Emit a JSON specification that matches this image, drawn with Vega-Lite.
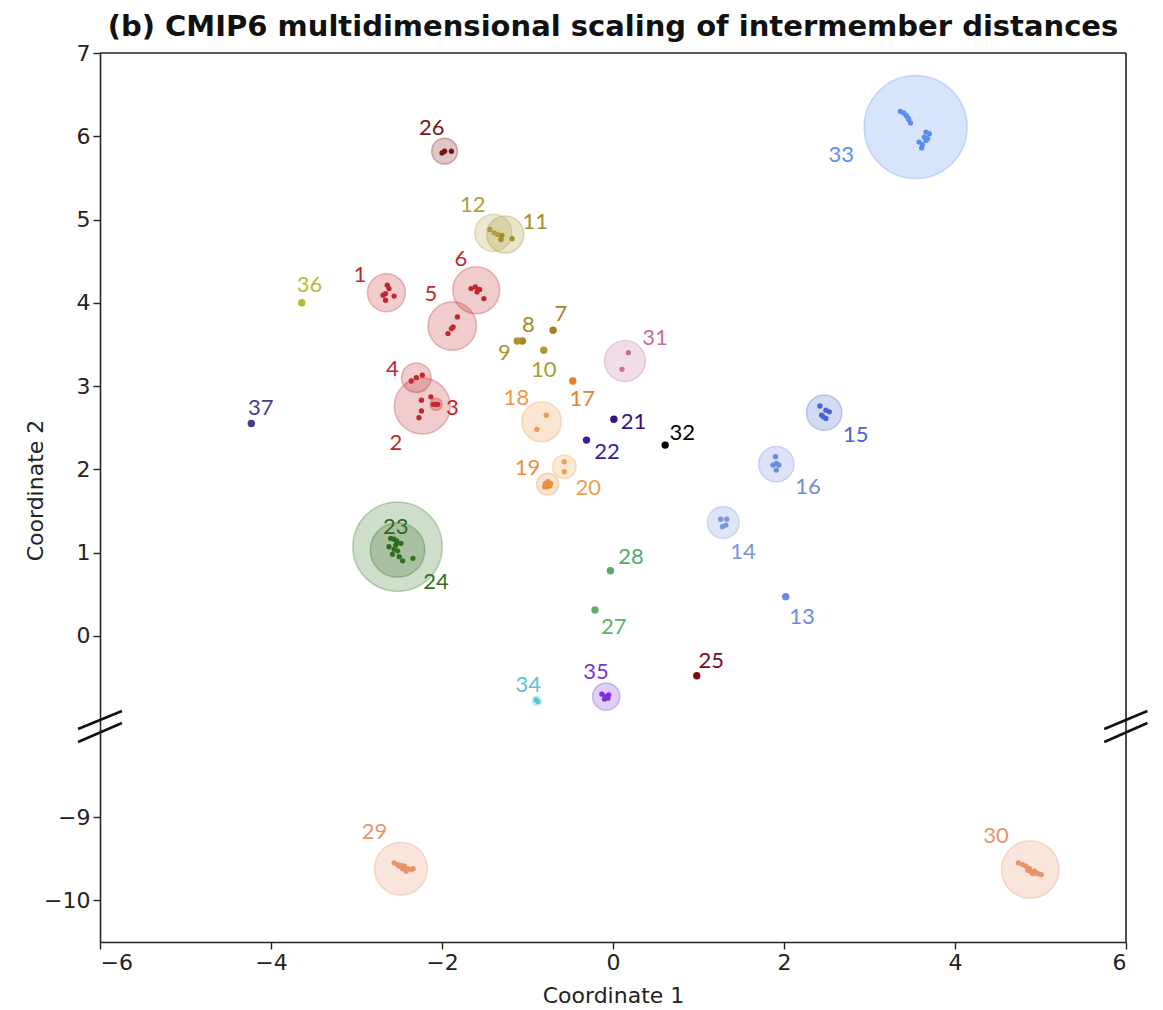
{
  "$schema": "https://vega.github.io/schema/vega-lite/v6.json",
  "padding": {"left": 24, "top": 13, "right": 5, "bottom": 5},
  "bounds": "flush",
  "spacing": 0,
  "config": {
    "view": {"stroke": null},
    "axis": {"grid": false, "domainColor": "#222", "domainWidth": 1.6, "tickColor": "#222", "tickWidth": 1.4, "tickSize": 7, "labelFont": "DejaVu Sans", "labelFontSize": 22, "labelColor": "#222", "titleFont": "DejaVu Sans", "titleFontSize": 22, "titleFontWeight": "normal", "titleColor": "#222"}
  },
  "datasets": {
    "models": [
      {"model": 1, "cx": -2.65, "cy": 4.12, "r": 0.25, "lx": -2.96, "ly": 4.33},
      {"model": 2, "cx": -2.23, "cy": 2.76, "r": 0.37, "lx": -2.54, "ly": 2.31},
      {"model": 3, "cx": -2.07, "cy": 2.78, "r": 0.08, "lx": -1.88, "ly": 2.73},
      {"model": 4, "cx": -2.30, "cy": 3.10, "r": 0.195, "lx": -2.58, "ly": 3.21},
      {"model": 5, "cx": -1.88, "cy": 3.72, "r": 0.32, "lx": -2.13, "ly": 4.11},
      {"model": 6, "cx": -1.60, "cy": 4.15, "r": 0.31, "lx": -1.78, "ly": 4.52},
      {"model": 7, "cx": -0.70, "cy": 3.67, "r": 0, "lx": -0.61, "ly": 3.86},
      {"model": 8, "cx": -1.06, "cy": 3.54, "r": 0, "lx": -0.99, "ly": 3.73},
      {"model": 9, "cx": -1.12, "cy": 3.54, "r": 0, "lx": -1.27, "ly": 3.40},
      {"model": 10, "cx": -0.81, "cy": 3.43, "r": 0, "lx": -0.81, "ly": 3.19},
      {"model": 11, "cx": -1.26, "cy": 4.82, "r": 0.245, "lx": -0.91, "ly": 4.97},
      {"model": 12, "cx": -1.40, "cy": 4.84, "r": 0.245, "lx": -1.64, "ly": 5.17},
      {"model": 13, "cx": 2.02, "cy": 0.47, "r": 0, "lx": 2.21, "ly": 0.23},
      {"model": 14, "cx": 1.29, "cy": 1.36, "r": 0.21, "lx": 1.52, "ly": 1.01},
      {"model": 15, "cx": 2.47, "cy": 2.68, "r": 0.234, "lx": 2.84, "ly": 2.41},
      {"model": 16, "cx": 1.91, "cy": 2.06, "r": 0.234, "lx": 2.28, "ly": 1.79},
      {"model": 17, "cx": -0.47, "cy": 3.06, "r": 0, "lx": -0.36, "ly": 2.84},
      {"model": 18, "cx": -0.835, "cy": 2.57, "r": 0.263, "lx": -1.13, "ly": 2.86},
      {"model": 19, "cx": -0.765, "cy": 1.82, "r": 0.146, "lx": -1.00, "ly": 2.01},
      {"model": 20, "cx": -0.57, "cy": 2.03, "r": 0.156, "lx": -0.29, "ly": 1.77},
      {"model": 21, "cx": 0.01, "cy": 2.60, "r": 0, "lx": 0.24, "ly": 2.57},
      {"model": 22, "cx": -0.31, "cy": 2.35, "r": 0, "lx": -0.07, "ly": 2.21},
      {"model": 23, "cx": -2.52, "cy": 1.03, "r": 0.36, "lx": -2.54, "ly": 1.31},
      {"model": 24, "cx": -2.52, "cy": 1.07, "r": 0.59, "lx": -2.07, "ly": 0.64},
      {"model": 25, "cx": 0.98, "cy": -0.48, "r": 0, "lx": 1.15, "ly": -0.30},
      {"model": 26, "cx": -1.97, "cy": 5.82, "r": 0.17, "lx": -2.12, "ly": 6.10},
      {"model": 27, "cx": -0.21, "cy": 0.31, "r": 0, "lx": 0.01, "ly": 0.11},
      {"model": 28, "cx": -0.03, "cy": 0.78, "r": 0, "lx": 0.21, "ly": 0.95},
      {"model": 29, "cx": -2.48, "cy": -9.62, "r": 0.35, "lx": -2.79, "ly": -9.18},
      {"model": 30, "cx": 4.88, "cy": -9.63, "r": 0.38, "lx": 4.48, "ly": -9.23},
      {"model": 31, "cx": 0.14, "cy": 3.30, "r": 0.27, "lx": 0.49, "ly": 3.58},
      {"model": 32, "cx": 0.61, "cy": 2.29, "r": 0, "lx": 0.81, "ly": 2.43},
      {"model": 33, "cx": 3.54, "cy": 6.11, "r": 0.68, "lx": 2.67, "ly": 5.77},
      {"model": 34, "cx": -0.89, "cy": -0.78, "r": 0.06, "lx": -0.99, "ly": -0.59},
      {"model": 35, "cx": -0.08, "cy": -0.73, "r": 0.18, "lx": -0.20, "ly": -0.43},
      {"model": 36, "cx": -3.64, "cy": 4.00, "r": 0, "lx": -3.55, "ly": 4.21},
      {"model": 37, "cx": -4.23, "cy": 2.55, "r": 0, "lx": -4.12, "ly": 2.74}
    ],
    "members": [
      {"model": 1, "x": -2.64, "y": 4.21}, {"model": 1, "x": -2.62, "y": 4.17}, {"model": 1, "x": -2.66, "y": 4.11},
      {"model": 1, "x": -2.56, "y": 4.08}, {"model": 1, "x": -2.69, "y": 4.09}, {"model": 1, "x": -2.66, "y": 4.03},
      {"model": 2, "x": -2.24, "y": 2.83}, {"model": 2, "x": -2.13, "y": 2.87}, {"model": 2, "x": -2.24, "y": 2.70}, {"model": 2, "x": -2.27, "y": 2.62},
      {"model": 3, "x": -2.10, "y": 2.78}, {"model": 3, "x": -2.07, "y": 2.78}, {"model": 3, "x": -2.05, "y": 2.78},
      {"model": 4, "x": -2.36, "y": 3.06}, {"model": 4, "x": -2.30, "y": 3.10}, {"model": 4, "x": -2.23, "y": 3.13},
      {"model": 5, "x": -1.82, "y": 3.83}, {"model": 5, "x": -1.87, "y": 3.71}, {"model": 5, "x": -1.89, "y": 3.69}, {"model": 5, "x": -1.93, "y": 3.63},
      {"model": 6, "x": -1.66, "y": 4.17}, {"model": 6, "x": -1.61, "y": 4.19}, {"model": 6, "x": -1.56, "y": 4.16}, {"model": 6, "x": -1.59, "y": 4.13}, {"model": 6, "x": -1.51, "y": 4.05},
      {"model": 7, "x": -0.70, "y": 3.67},
      {"model": 8, "x": -1.06, "y": 3.54},
      {"model": 9, "x": -1.12, "y": 3.54},
      {"model": 10, "x": -0.81, "y": 3.43},
      {"model": 11, "x": -1.30, "y": 4.81}, {"model": 11, "x": -1.31, "y": 4.76}, {"model": 11, "x": -1.18, "y": 4.77},
      {"model": 12, "x": -1.44, "y": 4.88}, {"model": 12, "x": -1.39, "y": 4.84}, {"model": 12, "x": -1.35, "y": 4.82},
      {"model": 13, "x": 2.02, "y": 0.47},
      {"model": 14, "x": 1.26, "y": 1.40}, {"model": 14, "x": 1.33, "y": 1.40}, {"model": 14, "x": 1.28, "y": 1.31}, {"model": 14, "x": 1.32, "y": 1.33},
      {"model": 15, "x": 2.42, "y": 2.76}, {"model": 15, "x": 2.49, "y": 2.71}, {"model": 15, "x": 2.53, "y": 2.69}, {"model": 15, "x": 2.44, "y": 2.65}, {"model": 15, "x": 2.49, "y": 2.61}, {"model": 15, "x": 2.46, "y": 2.63},
      {"model": 16, "x": 1.90, "y": 2.15}, {"model": 16, "x": 1.91, "y": 2.07}, {"model": 16, "x": 1.91, "y": 1.99}, {"model": 16, "x": 1.87, "y": 2.05}, {"model": 16, "x": 1.94, "y": 2.05},
      {"model": 17, "x": -0.47, "y": 3.06},
      {"model": 18, "x": -0.78, "y": 2.65}, {"model": 18, "x": -0.89, "y": 2.48},
      {"model": 19, "x": -0.79, "y": 1.83}, {"model": 19, "x": -0.76, "y": 1.85}, {"model": 19, "x": -0.74, "y": 1.80}, {"model": 19, "x": -0.77, "y": 1.79}, {"model": 19, "x": -0.73, "y": 1.83}, {"model": 19, "x": -0.80, "y": 1.79},
      {"model": 20, "x": -0.57, "y": 2.09}, {"model": 20, "x": -0.57, "y": 1.97},
      {"model": 21, "x": 0.01, "y": 2.60},
      {"model": 22, "x": -0.31, "y": 2.35},
      {"model": 23, "x": -2.56, "y": 1.16}, {"model": 23, "x": -2.53, "y": 1.14}, {"model": 23, "x": -2.48, "y": 1.11}, {"model": 23, "x": -2.62, "y": 1.07}, {"model": 23, "x": -2.54, "y": 1.09}, {"model": 23, "x": -2.60, "y": 1.17},
      {"model": 24, "x": -2.56, "y": 1.04}, {"model": 24, "x": -2.52, "y": 1.02}, {"model": 24, "x": -2.58, "y": 0.98}, {"model": 24, "x": -2.50, "y": 0.95}, {"model": 24, "x": -2.46, "y": 0.90}, {"model": 24, "x": -2.34, "y": 0.93},
      {"model": 25, "x": 0.98, "y": -0.48},
      {"model": 26, "x": -2.00, "y": 5.80}, {"model": 26, "x": -1.97, "y": 5.82}, {"model": 26, "x": -1.89, "y": 5.82},
      {"model": 27, "x": -0.21, "y": 0.31},
      {"model": 28, "x": -0.03, "y": 0.78},
      {"model": 29, "x": -2.56, "y": -9.55}, {"model": 29, "x": -2.52, "y": -9.57}, {"model": 29, "x": -2.48, "y": -9.58}, {"model": 29, "x": -2.44, "y": -9.59}, {"model": 29, "x": -2.40, "y": -9.62},
      {"model": 29, "x": -2.36, "y": -9.63}, {"model": 29, "x": -2.46, "y": -9.62}, {"model": 29, "x": -2.50, "y": -9.59}, {"model": 29, "x": -2.34, "y": -9.62}, {"model": 29, "x": -2.42, "y": -9.65},
      {"model": 30, "x": 4.74, "y": -9.55}, {"model": 30, "x": 4.79, "y": -9.57}, {"model": 30, "x": 4.83, "y": -9.59}, {"model": 30, "x": 4.87, "y": -9.62}, {"model": 30, "x": 4.89, "y": -9.66},
      {"model": 30, "x": 4.93, "y": -9.65}, {"model": 30, "x": 4.97, "y": -9.68}, {"model": 30, "x": 5.01, "y": -9.69}, {"model": 30, "x": 4.85, "y": -9.64}, {"model": 30, "x": 4.91, "y": -9.68},
      {"model": 31, "x": 0.18, "y": 3.40}, {"model": 31, "x": 0.105, "y": 3.20},
      {"model": 32, "x": 0.61, "y": 2.29},
      {"model": 33, "x": 3.36, "y": 6.30}, {"model": 33, "x": 3.40, "y": 6.28}, {"model": 33, "x": 3.43, "y": 6.25}, {"model": 33, "x": 3.46, "y": 6.20}, {"model": 33, "x": 3.48, "y": 6.16}, {"model": 33, "x": 3.45, "y": 6.22},
      {"model": 33, "x": 3.66, "y": 6.05}, {"model": 33, "x": 3.70, "y": 6.03}, {"model": 33, "x": 3.64, "y": 5.99}, {"model": 33, "x": 3.68, "y": 5.97}, {"model": 33, "x": 3.58, "y": 5.93}, {"model": 33, "x": 3.62, "y": 5.90},
      {"model": 33, "x": 3.61, "y": 5.86}, {"model": 33, "x": 3.66, "y": 5.95},
      {"model": 34, "x": -0.90, "y": -0.77}, {"model": 34, "x": -0.88, "y": -0.79},
      {"model": 35, "x": -0.13, "y": -0.70}, {"model": 35, "x": -0.09, "y": -0.73}, {"model": 35, "x": -0.05, "y": -0.71}, {"model": 35, "x": -0.10, "y": -0.76}, {"model": 35, "x": -0.06, "y": -0.75},
      {"model": 36, "x": -3.64, "y": 4.00},
      {"model": 37, "x": -4.23, "y": 2.55}
    ]
  },
  "vconcat": [
    {
      "width": 1026,
      "height": 673,
      "title": {"text": "(b) CMIP6 multidimensional scaling of intermember distances", "font": "DejaVu Sans", "fontSize": 29, "fontWeight": "bold", "color": "#111", "anchor": "middle", "frame": "group", "baseline": "alphabetic", "offset": -23},
      "layer": [
        {
          "data": {"name": "models"},
          "transform": [{"filter": "datum.cy > -5 && datum.r > 0"}],
          "mark": {"type": "point", "shape": "circle", "filled": true, "fillOpacity": 0.24, "strokeOpacity": 0.3, "strokeWidth": 1.5},
          "encoding": {
            "x": {"field": "cx", "type": "quantitative", "scale": {"domain": [-6, 6], "nice": false, "zero": false}, "axis": null},
            "y": {"field": "cy", "type": "quantitative", "scale": {"domain": [-1.084, 7], "nice": false, "zero": false},
                  "axis": {"values": [0, 1, 2, 3, 4, 5, 6, 7], "format": "d", "labelPadding": 3, "title": "Coordinate 2", "titleX": -58, "titleY": 437, "titleAngle": 270, "titleBaseline": "alphabetic", "titleAlign": "center"}},
            "size": {"field": "r", "type": "quantitative", "scale": {"type": "pow", "exponent": 2, "domain": [0, 1], "range": [0, 22966]}, "legend": null},
            "color": {"field": "model", "type": "nominal", "legend": null,
                      "scale": {"domain": [1,2,3,4,5,6,7,8,9,10,11,12,13,14,15,16,17,18,19,20,21,22,23,24,25,26,27,28,29,30,31,32,33,34,35,36,37],
                                "range": ["#c0282e","#c0282e","#c0282e","#c0282e","#c0282e","#c0282e","#a8801a","#a8862a","#a8962a","#ab9a2c","#a08e26","#b39d3a","#6a8ae6","#7b94dc","#4964d2","#6c8ce0","#e5822a","#ee9848","#eb8e3c","#f0a050","#3a0f8a","#3f1a96","#2d6a1c","#356f24","#7a0a12","#7a1418","#5fae6f","#5aa66b","#e8946a","#e8946a","#c46f9d","#000000","#5b8def","#5bc3d2","#7a33d6","#b5bd2d","#3f3f8c"]}},
            "stroke": {"field": "model", "type": "nominal", "legend": null,
                      "scale": {"domain": [1,2,3,4,5,6,7,8,9,10,11,12,13,14,15,16,17,18,19,20,21,22,23,24,25,26,27,28,29,30,31,32,33,34,35,36,37],
                                "range": ["#c0282e","#c0282e","#c0282e","#c0282e","#c0282e","#c0282e","#a8801a","#a8862a","#a8962a","#ab9a2c","#a08e26","#b39d3a","#6a8ae6","#7b94dc","#4964d2","#6c8ce0","#e5822a","#ee9848","#eb8e3c","#f0a050","#3a0f8a","#3f1a96","#2d6a1c","#356f24","#7a0a12","#7a1418","#5fae6f","#5aa66b","#e8946a","#e8946a","#c46f9d","#000000","#5b8def","#5bc3d2","#7a33d6","#b5bd2d","#3f3f8c"]}}
          }
        },
        {
          "data": {"name": "members"},
          "transform": [{"joinaggregate": [{"op": "count", "as": "n"}], "groupby": ["model"]}, {"filter": "datum.y > -5"}],
          "mark": {"type": "point", "shape": "circle", "filled": true, "opacity": 1},
          "encoding": {
            "x": {"field": "x", "type": "quantitative"},
            "y": {"field": "y", "type": "quantitative"},
            "size": {"condition": {"test": "datum.n == 1", "value": 55}, "value": 28},
            "color": {"field": "model", "type": "nominal", "legend": null}
          }
        },
        {
          "data": {"name": "models"},
          "transform": [{"filter": "datum.cy > -5"}],
          "mark": {"type": "text", "font": "Lato", "fontSize": 22, "align": "center", "baseline": "middle"},
          "encoding": {
            "x": {"field": "lx", "type": "quantitative"},
            "y": {"field": "ly", "type": "quantitative"},
            "text": {"field": "model", "type": "nominal"},
            "color": {"field": "model", "type": "nominal", "legend": null}
          }
        },
        {
          "data": {"values": [{}]},
          "mark": {"type": "rule", "color": "#222", "strokeWidth": 1.6},
          "encoding": {"x": {"datum": 6, "type": "quantitative"}}
        },
        {
          "data": {"values": [{}]},
          "mark": {"type": "rule", "color": "#222", "strokeWidth": 1.6},
          "encoding": {"y": {"datum": 7, "type": "quantitative"}}
        },
        {
          "data": {"values": [{}]},
          "mark": {"type": "rule", "color": "#111", "strokeWidth": 2.6, "clip": false},
          "encoding": {"x": {"datum": -6.257}, "x2": {"datum": -5.743}, "y": {"datum": -1.12}, "y2": {"datum": -0.904}}
        },
        {
          "data": {"values": [{}]},
          "mark": {"type": "rule", "color": "#111", "strokeWidth": 2.6, "clip": false},
          "encoding": {"x": {"datum": -6.257}, "x2": {"datum": -5.743}, "y": {"datum": -1.276}, "y2": {"datum": -1.048}}
        },
        {
          "data": {"values": [{}]},
          "mark": {"type": "rule", "color": "#111", "strokeWidth": 2.6, "clip": false},
          "encoding": {"x": {"datum": 5.746}, "x2": {"datum": 6.25}, "y": {"datum": -1.12}, "y2": {"datum": -0.904}}
        },
        {
          "data": {"values": [{}]},
          "mark": {"type": "rule", "color": "#111", "strokeWidth": 2.6, "clip": false},
          "encoding": {"x": {"datum": 5.746}, "x2": {"datum": 6.25}, "y": {"datum": -1.276}, "y2": {"datum": -1.048}}
        }
      ]
    },
    {
      "width": 1026,
      "height": 216,
      "layer": [
        {
          "data": {"name": "models"},
          "transform": [{"filter": "datum.cy < -5 && datum.r > 0"}],
          "mark": {"type": "point", "shape": "circle", "filled": true, "fillOpacity": 0.24, "strokeOpacity": 0.3, "strokeWidth": 1.5},
          "encoding": {
            "x": {"field": "cx", "type": "quantitative", "scale": {"domain": [-6, 6], "nice": false, "zero": false},
                  "axis": {"values": [-6, -4, -2, 0, 2, 4, 6], "format": "d", "labelPadding": 3, "title": "Coordinate 1", "titlePadding": 12}},
            "y": {"field": "cy", "type": "quantitative", "scale": {"domain": [-10.5, -7.907], "nice": false, "zero": false},
                  "axis": {"values": [-10, -9], "format": "d", "labelPadding": 3, "title": null}},
            "size": {"field": "r", "type": "quantitative", "scale": {"type": "pow", "exponent": 2, "domain": [0, 1], "range": [0, 22966]}, "legend": null},
            "color": {"field": "model", "type": "nominal", "legend": null},
            "stroke": {"field": "model", "type": "nominal", "legend": null}
          }
        },
        {
          "data": {"name": "members"},
          "transform": [{"joinaggregate": [{"op": "count", "as": "n"}], "groupby": ["model"]}, {"filter": "datum.y < -5"}],
          "mark": {"type": "point", "shape": "circle", "filled": true, "opacity": 1},
          "encoding": {
            "x": {"field": "x", "type": "quantitative"},
            "y": {"field": "y", "type": "quantitative"},
            "size": {"condition": {"test": "datum.n == 1", "value": 55}, "value": 28},
            "color": {"field": "model", "type": "nominal", "legend": null}
          }
        },
        {
          "data": {"name": "models"},
          "transform": [{"filter": "datum.cy < -5"}],
          "mark": {"type": "text", "font": "Lato", "fontSize": 22, "align": "center", "baseline": "middle"},
          "encoding": {
            "x": {"field": "lx", "type": "quantitative"},
            "y": {"field": "ly", "type": "quantitative"},
            "text": {"field": "model", "type": "nominal"},
            "color": {"field": "model", "type": "nominal", "legend": null}
          }
        },
        {
          "data": {"values": [{}]},
          "mark": {"type": "rule", "color": "#222", "strokeWidth": 1.6},
          "encoding": {"x": {"datum": 6, "type": "quantitative"}}
        }
      ]
    }
  ]
}
